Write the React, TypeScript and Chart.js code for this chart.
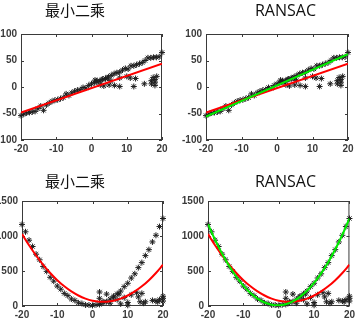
import React, { useEffect, useRef } from 'react';
import { Chart, registerables } from 'chart.js';

Chart.register(...registerables);

// ---------- data: linear case ----------
const linX = [-20, -19.2, -18.4, -17.6, -16.8, -16, -15.2, -14.4, -13.6, -12.8, -12, -11.2, -10.4, -9.6, -8.8, -8, -7.2, -6.4, -5.6, -4.8, -4, -3.2, -2.4, -1.6, -0.8, 0, 0.8, 1.6, 2.4, 3.2, 4, 4.8, 5.6, 6.4, 7.2, 8, 8.8, 9.6, 10.4, 11.2, 12, 12.8, 13.6, 14.4, 15.2, 16, 16.8, 17.6, 18.4, 19.2, 20];
const linY = [-54, -51, -49, -48, -47, -46, -41, -36, -44, -34, -30, -27, -25, -24, -22, -20, -13, -16, -11, -8, -6, -5, -1, -2, 3, 6, 8, 12, 11, 15, 16, 19, 22, 25, 27, 28, 32, 35, 34, 40, 40, 42, 44, 46, 50, 55, 55, 56, 56, 57, 65];
const linOutX = [1, 1.5, 2.5, 3, 3.5, 4, 4.5, 5, 5.5, 6.5, 8, 8, 10, 11, 12, 12.5, 15, 17, 17, 17.5, 18, 18, 18.5, 18];
const linOutY = [13, 10, 4, 14, 2, 16, 17, 4, 12, 3, 1, 17, 20, 17, 1, 16, 6, 6, 12, 18, 3, 14, 20, 9];
const linFitX = [-20, 20];
const linLsY = [-48, 44];
const linRansacY = [-56, 62];

// ---------- data: quadratic case ----------
const quadX = [-20, -19, -18, -17, -16, -15, -14, -13, -12, -11, -10, -9, -8, -7, -6, -5, -4, -3, -2, -1, 0, 1, 2, 3, 4, 5, 6, 7, 8, 9, 10, 11, 12, 13, 14, 15, 16, 17, 18, 19, 20];
const quadY = [1165, 1060, 940, 850, 740, 660, 565, 495, 410, 355, 285, 240, 180, 148, 100, 80, 45, 35, 15, 14, 8, 18, 22, 48, 62, 98, 126, 175, 214, 276, 325, 400, 460, 548, 620, 720, 805, 915, 1010, 1135, 1250];
const quadOutX = [2, 2, 3, 4, 5, 6, 7, 7.5, 8, 9, 10, 10, 11, 12.5, 13, 13.5, 14, 14.5, 15, 17, 18, 18.5, 19, 20, 20, 20];
const quadOutY = [200, 110, 60, 170, 40, 140, 90, 170, 30, 120, 50, 10, 160, 190, 130, 60, 180, 40, 60, 80, 70, 60, 90, 140, 70, 110];
const curveX = [-20, -18, -16, -14, -12, -10, -8, -6, -4, -2, 0, 2, 4, 6, 8, 10, 12, 14, 16, 18, 20];
const quadLsY = [1028, 867, 721, 589, 472, 369, 281, 208, 150, 106, 76, 62, 62, 76, 106, 150, 208, 281, 369, 472, 589];
const quadRansacY = [1170, 946, 746, 570, 418, 290, 186, 106, 50, 18, 10, 26, 66, 130, 218, 330, 466, 626, 810, 1018, 1250];

// ---------- axis ticks ----------
const xTicks = [-20, -10, 0, 10, 20];
const linYTicks = [-100, -50, 0, 50, 100];
const quadYTicks = [0, 500, 1000, 1500];

const titleLS = '最小二乘';
const titleRansac = 'RANSAC';

const zip = (xs: number[], ys: number[]) => xs.map((x, i) => ({ x, y: ys[i] }));

const boxPlugin = {
  id: 'matlabBox',
  beforeDatasetsDraw(chart: any) {
    const { ctx, chartArea: a, scales } = chart;
    const x = scales.x;
    const y = scales.y;
    ctx.save();
    ctx.strokeStyle = '#3a3a3a';
    ctx.lineWidth = 1;
    ctx.strokeRect(a.left + 0.5, a.top + 0.5, a.right - a.left - 1, a.bottom - a.top - 1);
    const L = 3;
    ctx.beginPath();
    x.ticks.forEach((t: any) => {
      const px = Math.round(x.getPixelForValue(t.value)) + 0.5;
      ctx.moveTo(px, a.bottom);
      ctx.lineTo(px, a.bottom - L);
      ctx.moveTo(px, a.top);
      ctx.lineTo(px, a.top + L);
    });
    y.ticks.forEach((t: any) => {
      const py = Math.round(y.getPixelForValue(t.value)) + 0.5;
      ctx.moveTo(a.left, py);
      ctx.lineTo(a.left + L, py);
      ctx.moveTo(a.right, py);
      ctx.lineTo(a.right - L, py);
    });
    ctx.stroke();
    ctx.restore();
  },
};

type PanelProps = {
  left: number;
  top: number;
  width: number;
  height: number;
  yAxisW: number;
  padR: number;
  padT: number;
  xAxisH: number;
  yTicks: number[];
  datasets: any[];
};

const tickFont = { family: '"Liberation Sans", Arial, sans-serif', size: 10, weight: 'bold' };
const tickColor = '#3a3a3a';

function Panel(p: PanelProps) {
  const ref = useRef<HTMLCanvasElement | null>(null);
  useEffect(() => {
    if (!ref.current) return;
    const yMin = p.yTicks[0];
    const yMax = p.yTicks[p.yTicks.length - 1];
    const chart = new Chart(ref.current, {
      type: 'scatter',
      data: { datasets: p.datasets },
      options: {
        responsive: false,
        animation: false,
        devicePixelRatio: 1,
        layout: { padding: { left: 0, right: p.padR, top: p.padT, bottom: 0 } },
        plugins: {
          legend: { display: false },
          tooltip: { enabled: false },
          title: { display: false },
        },
        scales: {
          x: {
            type: 'linear',
            min: xTicks[0],
            max: xTicks[xTicks.length - 1],
            afterBuildTicks: (s: any) => {
              s.ticks = xTicks.map((v) => ({ value: v }));
            },
            ticks: {
              padding: 3,
              color: tickColor,
              font: tickFont,
              maxRotation: 0,
              autoSkip: false,
              callback: (v: any) => String(v),
            },
            grid: { display: false, drawTicks: false },
            border: { display: false },
            afterFit: (s: any) => {
              s.height = p.xAxisH;
            },
          },
          y: {
            type: 'linear',
            min: yMin,
            max: yMax,
            afterBuildTicks: (s: any) => {
              s.ticks = p.yTicks.map((v) => ({ value: v }));
            },
            ticks: {
              padding: 4,
              color: tickColor,
              font: tickFont,
              autoSkip: false,
              callback: (v: any) => String(v),
            },
            grid: { display: false, drawTicks: false },
            border: { display: false },
            afterFit: (s: any) => {
              s.width = p.yAxisW;
            },
          },
        },
      } as any,
      plugins: [boxPlugin],
    });
    return () => chart.destroy();
  }, []);
  return (
    <canvas
      ref={ref}
      width={p.width}
      height={p.height}
      style={{ position: 'absolute', left: p.left, top: p.top, width: p.width, height: p.height }}
    />
  );
}

const scatterDs = (xs: number[], ys: number[], xs2: number[], ys2: number[]) => ({
  type: 'scatter',
  data: [...zip(xs, ys), ...zip(xs2, ys2)],
  pointStyle: 'star',
  pointRadius: 3,
  borderColor: '#1e1e1e',
  backgroundColor: '#1e1e1e',
  borderWidth: 1,
  clip: false,
  order: 3,
});

const lineDs = (xs: number[], ys: number[], color: string, order: number, tension: number) => ({
  type: 'line',
  data: zip(xs, ys),
  showLine: true,
  borderColor: color,
  backgroundColor: color,
  borderWidth: 2,
  pointRadius: 0,
  tension,
  fill: false,
  order,
});

const titleStyle = (cx: number, cy: number, size: number): React.CSSProperties => ({
  position: 'absolute',
  left: cx,
  top: cy,
  transform: 'translate(-50%, -50%)',
  fontSize: size,
  lineHeight: 1,
  whiteSpace: 'nowrap',
  fontFamily: '"Open Sans", "Noto Sans CJK SC", sans-serif',
  color: '#111',
});

export default function App() {
  return (
    <div
      style={{
        position: 'fixed',
        left: 0,
        top: 0,
        width: 358,
        height: 321,
        overflow: 'hidden',
        background: '#fff',
      }}
    >
      <Panel
        left={0}
        top={0}
        width={179}
        height={160}
        yAxisW={21}
        padR={17}
        padT={34}
        xAxisH={20}
        yTicks={linYTicks}
        datasets={[
          scatterDs(linX, linY, linOutX, linOutY),
          lineDs(linFitX, linLsY, '#ff0000', 2, 0),
        ]}
      />
      <Panel
        left={179}
        top={0}
        width={179}
        height={160}
        yAxisW={27}
        padR={10}
        padT={34}
        xAxisH={20}
        yTicks={linYTicks}
        datasets={[
          scatterDs(linX, linY, linOutX, linOutY),
          lineDs(linFitX, linLsY, '#ff0000', 2, 0),
          lineDs(linFitX, linRansacY, '#00ee00', 1, 0),
        ]}
      />
      <Panel
        left={0}
        top={160}
        width={179}
        height={161}
        yAxisW={22}
        padR={16}
        padT={41}
        xAxisH={15}
        yTicks={quadYTicks}
        datasets={[
          scatterDs(quadX, quadY, quadOutX, quadOutY),
          lineDs(curveX, quadLsY, '#ff0000', 2, 0.4),
        ]}
      />
      <Panel
        left={179}
        top={160}
        width={179}
        height={161}
        yAxisW={29}
        padR={8}
        padT={41}
        xAxisH={15}
        yTicks={quadYTicks}
        datasets={[
          scatterDs(quadX, quadY, quadOutX, quadOutY),
          lineDs(curveX, quadLsY, '#ff0000', 2, 0.4),
          lineDs(curveX, quadRansacY, '#00ee00', 1, 0.4),
        ]}
      />
      <div style={titleStyle(75, 10, 15)}>{titleLS}</div>
      <div style={titleStyle(285.5, 10, 16)}>{titleRansac}</div>
      <div style={titleStyle(75, 180.5, 15)}>{titleLS}</div>
      <div style={titleStyle(285.5, 180.5, 16)}>{titleRansac}</div>
    </div>
  );
}
